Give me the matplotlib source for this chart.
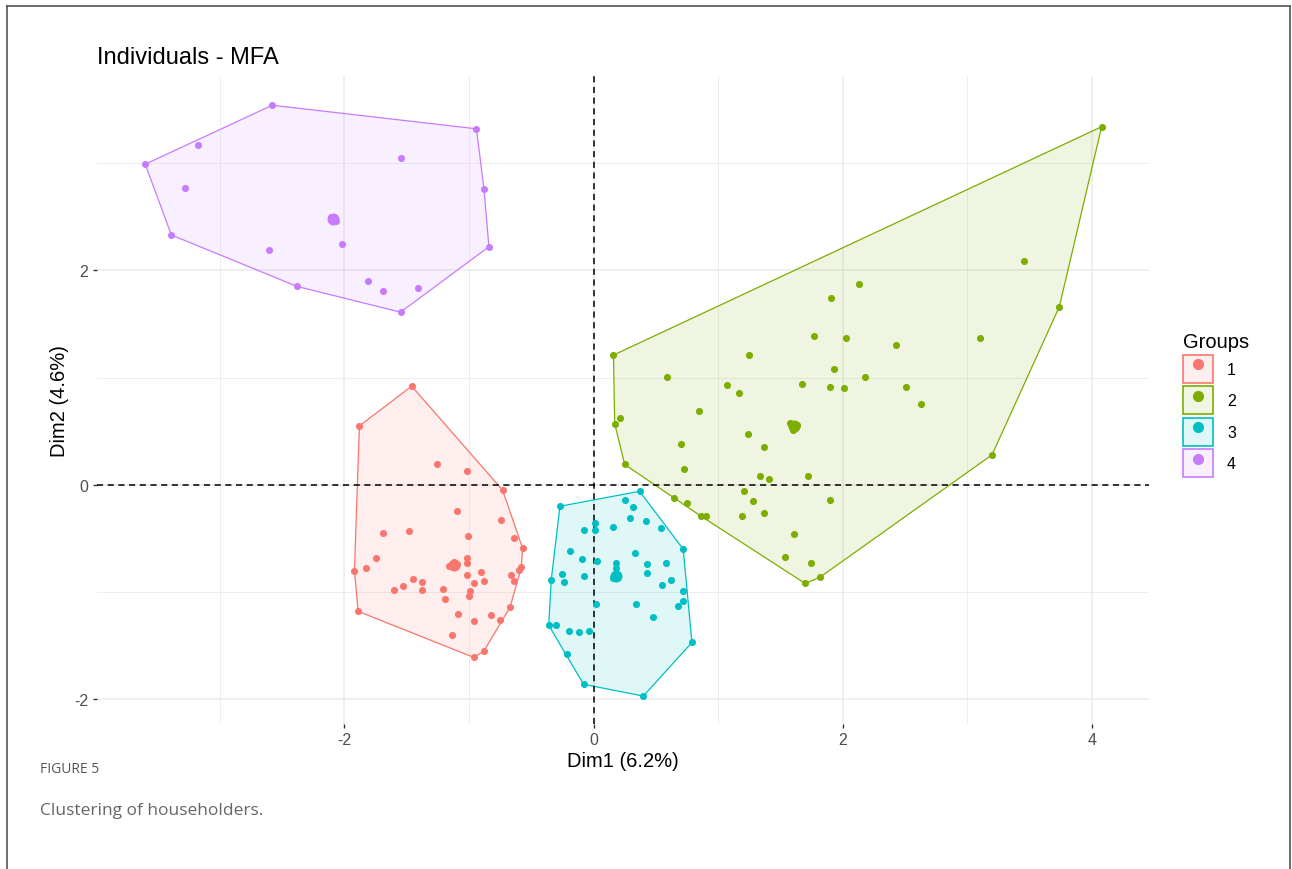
import numpy as np
import matplotlib
matplotlib.use("Agg")
import matplotlib.pyplot as plt
from matplotlib.patches import Patch, Polygon
from matplotlib.lines import Line2D

# individuals (Dim1, Dim2) per cluster
g1_x = [-1.46, -1.88, -1.26, -1.02, -0.73, -1.10, -0.74, -1.69, -1.48, -1.01,
        -0.64, -0.57, -1.75, -1.02, -1.02, -1.10, -1.92, -1.83, -0.60, -0.66,
        -0.90, -1.02, -0.64, -1.45, -1.38, -0.88, -0.96, -1.53, -1.60, -1.38,
        -1.21, -0.99, -1.00, -1.19, -0.67, -1.89, -1.09, -0.82, -0.75, -0.96,
        -1.14, -0.88, -0.96, -0.58, -1.16, -1.12]
g1_y = [0.92, 0.55, 0.19, 0.13, -0.05, -0.24, -0.33, -0.45, -0.43, -0.48,
        -0.50, -0.59, -0.68, -0.68, -0.73, -0.74, -0.80, -0.78, -0.79, -0.84,
        -0.81, -0.84, -0.90, -0.88, -0.91, -0.90, -0.92, -0.94, -0.98, -0.98,
        -0.97, -0.99, -1.04, -1.06, -1.14, -1.18, -1.20, -1.21, -1.26, -1.27,
        -1.40, -1.55, -1.61, -0.77, -0.76, -0.72]

g2_x = [0.16, 1.77, 2.03, 2.43, 1.25, 0.59, 1.93, 2.18, 1.07, 1.67,
        1.90, 2.01, 1.17, 0.85, 0.21, 0.17, 1.60, 1.24, 0.70, 1.37,
        0.25, 0.73, 1.34, 1.41, 1.72, 0.65, 0.75, 1.21, 1.28, 1.90,
        0.86, 0.90, 1.19, 1.37, 1.61, 1.54, 1.75, 1.82, 1.70, 1.91,
        2.13, 4.08, 3.46, 3.74, 3.10, 2.51, 2.63, 3.20, 1.58, 1.63]
g2_y = [1.21, 1.39, 1.37, 1.30, 1.21, 1.01, 1.08, 1.01, 0.93, 0.94,
        0.91, 0.90, 0.86, 0.69, 0.62, 0.57, 0.51, 0.47, 0.38, 0.35,
        0.19, 0.15, 0.08, 0.05, 0.08, -0.12, -0.17, -0.06, -0.15, -0.14,
        -0.29, -0.29, -0.29, -0.26, -0.46, -0.67, -0.73, -0.86, -0.92, 1.74,
        1.87, 3.34, 2.09, 1.66, 1.37, 0.91, 0.75, 0.28, 0.58, 0.56]

g3_x = [0.37, -0.27, 0.25, 0.32, 0.29, 0.42, 0.01, 0.01, -0.08, 0.16,
        0.54, 0.72, -0.19, 0.33, -0.09, 0.03, 0.18, 0.58, 0.43, 0.18,
        -0.25, -0.08, 0.43, -0.34, -0.24, 0.62, 0.55, 0.72, 0.72, 0.68,
        0.02, 0.34, 0.48, -0.36, -0.30, -0.20, -0.12, -0.04, 0.79, -0.21,
        -0.08, 0.40, 0.16, 0.20]
g3_y = [-0.06, -0.20, -0.14, -0.21, -0.31, -0.34, -0.36, -0.42, -0.42, -0.39,
        -0.40, -0.60, -0.62, -0.64, -0.69, -0.71, -0.73, -0.73, -0.74, -0.78,
        -0.83, -0.85, -0.82, -0.89, -0.91, -0.89, -0.93, -0.99, -1.08, -1.13,
        -1.11, -1.11, -1.23, -1.31, -1.31, -1.36, -1.37, -1.36, -1.47, -1.58,
        -1.86, -1.97, -0.87, -0.84]

g4_x = [-2.58, -0.94, -3.60, -3.18, -1.55, -3.28, -0.88, -2.02, -3.39,
        -2.61, -0.84, -2.38, -1.81, -1.69, -1.41, -1.55, -2.11, -2.07]
g4_y = [3.54, 3.32, 2.99, 3.17, 3.05, 2.77, 2.76, 2.25, 2.33,
        2.19, 2.22, 1.85, 1.90, 1.81, 1.84, 1.61, 2.50, 2.46]

# cluster centres (drawn bigger)
cent_x = [-1.12, 1.61, 0.18, -2.09]
cent_y = [-0.75, 0.55, -0.85, 2.48]

group_names = ["1", "2", "3", "4"]
colors = ["#F8766D", "#7CAE00", "#00BFC4", "#C77CFF"]


def convex_hull(xs, ys):
    pts = sorted(set(zip(xs, ys)))

    def cross(o, a, b):
        return (a[0] - o[0]) * (b[1] - o[1]) - (a[1] - o[1]) * (b[0] - o[0])

    lower, upper = [], []
    for p in pts:
        while len(lower) >= 2 and cross(lower[-2], lower[-1], p) <= 0:
            lower.pop()
        lower.append(p)
    for p in reversed(pts):
        while len(upper) >= 2 and cross(upper[-2], upper[-1], p) <= 0:
            upper.pop()
        upper.append(p)
    return np.array(lower[:-1] + upper[:-1])


plt.rcParams["font.family"] = ["Liberation Sans", "DejaVu Sans"]
plt.rcParams["axes.unicode_minus"] = False

fig = plt.figure(figsize=(12.92, 8.70), dpi=100)
ax = fig.add_axes([0.0748, 0.1667, 0.8145, 0.7451])

groups = [(g1_x, g1_y), (g2_x, g2_y), (g3_x, g3_y), (g4_x, g4_y)]
for i, (gx, gy) in enumerate(groups):
    hull = convex_hull(gx, gy)
    ax.add_patch(Polygon(hull, closed=True, facecolor=colors[i], alpha=0.12,
                         edgecolor="none", zorder=1))
    ax.add_patch(Polygon(hull, closed=True, facecolor="none",
                         edgecolor=colors[i], linewidth=0.9, zorder=2))
    ax.scatter(gx, gy, s=26, color=colors[i], linewidths=0, zorder=4)
    ax.scatter([cent_x[i]], [cent_y[i]], s=75, color=colors[i],
               linewidths=0, zorder=4)

ax.axhline(0, color="black", linestyle=(0, (4, 3)), linewidth=1.1, zorder=3)
ax.axvline(0, color="black", linestyle=(0, (4, 3)), linewidth=1.1, zorder=3)

ax.set_xlim(-3.99, 4.46)
ax.set_ylim(-2.23, 3.815)
ax.set_xticks([-2, 0, 2, 4])
ax.set_yticks([-2, 0, 2])
ax.set_xticks([-3, -1, 1, 3], minor=True)
ax.set_yticks([-1, 1, 3], minor=True)
ax.grid(True, which="major", color="#EBEBEB", linewidth=1.1, zorder=0)
ax.grid(True, which="minor", color="#EBEBEB", linewidth=0.6, zorder=0)
ax.set_axisbelow(True)
for s in ax.spines.values():
    s.set_visible(False)
ax.tick_params(which="major", length=3, width=1, color="#333333",
               labelsize=11.5, labelcolor="#4D4D4D", pad=3)
ax.tick_params(which="minor", length=0)

ax.set_xlabel("Dim1 (6.2%)", fontsize=14.5, labelpad=3)
ax.set_ylabel("Dim2 (4.6%)", fontsize=14.5, labelpad=4)
ax.set_title("Individuals - MFA", fontsize=17, loc="left", pad=9)

handles = [(Patch(facecolor=c, alpha=0.12, edgecolor="none"),
            Patch(facecolor="none", edgecolor=c, linewidth=1.2),
            Line2D([], [], marker="o", color=c, linestyle="none", markersize=7))
           for c in colors]
leg = fig.legend(handles, group_names, title="Groups", loc="upper left",
                 bbox_to_anchor=(0.9095, 0.626), frameon=False, fontsize=11.5,
                 title_fontsize=14.5, handlelength=1.85, handleheight=2.35,
                 labelspacing=0.2, handletextpad=0.9, borderpad=0)
leg._legend_box.align = "left"

# caption under the chart
fig.text(0.031, 0.111, "FIGURE 5", fontsize=10, color="#555555",
         family=["Open Sans", "DejaVu Sans"])
fig.text(0.031, 0.063, "Clustering of householders.", fontsize=12.5,
         color="#666666", family=["Open Sans", "DejaVu Sans"])

# page frame
frame = dict(color="#555555", linewidth=1.2, transform=fig.transFigure)
fig.add_artist(Line2D([0.0055, 0.0055], [0, 0.992], **frame))
fig.add_artist(Line2D([0.0055, 0.9985], [0.992, 0.992], **frame))
fig.add_artist(Line2D([0.9985, 0.9985], [0, 0.992], **frame))

fig.savefig("out.png", dpi=100)
